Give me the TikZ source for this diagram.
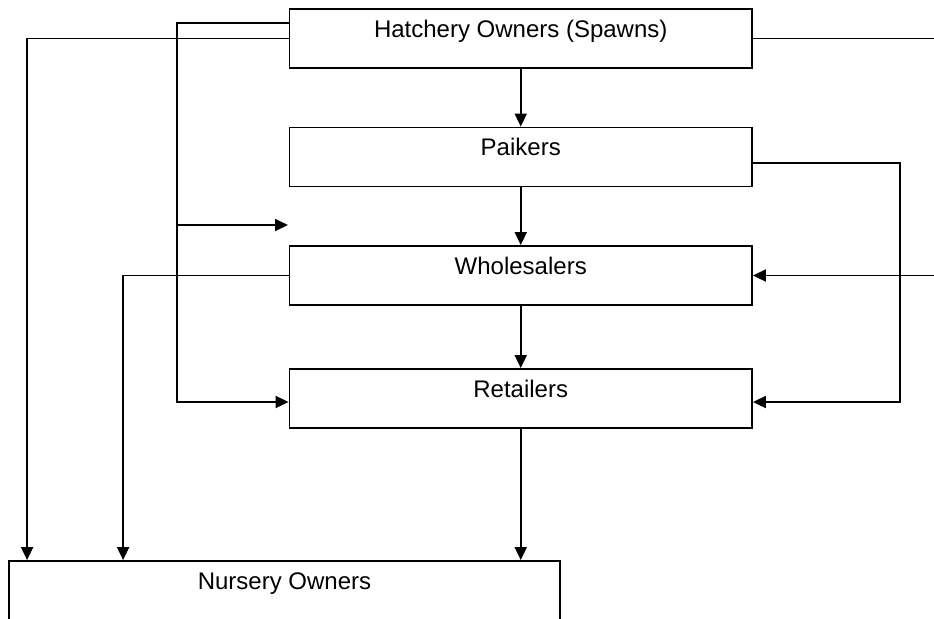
\documentclass[tikz,border=0pt]{standalone}
\usepackage{fontspec}
\setmainfont{Liberation Sans}
\usepackage{tikz}
\usetikzlibrary{arrows.meta, positioning, calc}

\begin{document}
\begin{tikzpicture}[x=0.5pt, y=-0.5pt,
    box/.style={draw, line width=0.9pt, inner sep=0pt, minimum width=231.25pt,
        text height=14pt, text depth=15.5pt, font=\fontsize{12}{14}\selectfont},
    flow/.style={line width=0.9pt, -{Triangle[length=6.5pt, width=6pt]}}]
    \useasboundingbox (0,0) rectangle (934,618);

    % Chain of traders
    \node[box] (hatch) at (520.75,38.5) {Hatchery Owners (Spawns)};
    \node[box] (paik) at (520.75,157) {Paikers};
    \node[box] (whole) at (520.75,275.5) {Wholesalers};
    \node[box] (retail) at (520.75,398.5) {Retailers};
    \node[box, minimum width=275.5pt] (nursery) at (284.5,590.5) {Nursery Owners};

    % Straight down
    \draw[flow] (hatch.south) -- (paik.north);
    \draw[flow] (paik.south) -- (whole.north);
    \draw[flow] (whole.south) -- (retail.north);
    \draw[flow] (retail.south) -- (retail.south |- nursery.north);

    % Left side
    \coordinate (hL1) at ($(hatch.north west)!0.24!(hatch.south west)$);
    \coordinate (rL) at ($(retail.west)+(0,3.5)$);
    \coordinate (split) at (178,225);
    \coordinate (stub) at (288,225);
    \draw[flow] (hL1) -| ($(rL)+(-111.5,0)$) -- (rL);
    \draw[flow] (split) -- (stub);
    \draw[flow] (hatch.west) -| ($(nursery.north west)+(19,0)$);
    \draw[flow] (whole.west) -| ($(nursery.north west)+(115,0)$);

    % Right side
    \draw[flow] (hatch.east) -- ++(200,0) |- (whole.east);
    \draw[flow] ($(paik.east)+(0,6)$) -- ++(147,0) |- ($(retail.east)+(0,3.5)$);
\end{tikzpicture}
\end{document}
